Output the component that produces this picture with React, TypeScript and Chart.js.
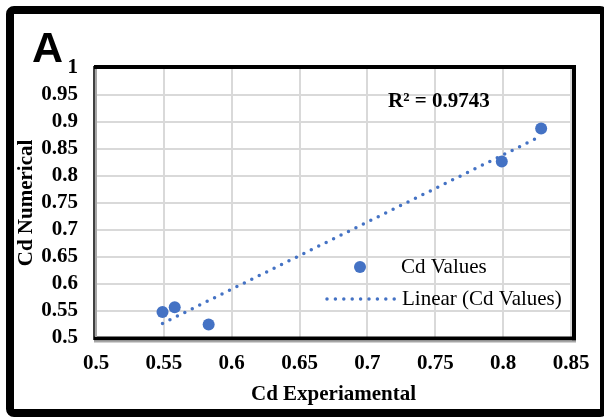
import React, { useEffect, useRef } from "react";
import { Chart, registerables } from "chart.js";

Chart.register(...registerables);

// ---- data ----
const cdExperimental = [0.549, 0.558, 0.583, 0.799, 0.828];
const cdNumerical = [0.548, 0.557, 0.525, 0.827, 0.888];
const trendX = [0.549, 0.828];
const trendY = [0.527, 0.874];
const xTicks = [0.5, 0.55, 0.6, 0.65, 0.7, 0.75, 0.8, 0.85];
const xTickLabels = ["0.5", "0.55", "0.6", "0.65", "0.7", "0.75", "0.8", "0.85"];
const yTicks = [0.5, 0.55, 0.6, 0.65, 0.7, 0.75, 0.8, 0.85, 0.9, 0.95, 1];
const yTickLabels = ["0.5", "0.55", "0.6", "0.65", "0.7", "0.75", "0.8", "0.85", "0.9", "0.95", "1"];
const seriesName = "Cd Values";
const trendName = "Linear (Cd Values)";
const r2Label = "R² = 0.9743";
const panelLabel = "A";
const xTitle = "Cd Experiamental";
const yTitle = "Cd Numerical";

const BLUE = "#4472C4";
const SERIF = "'Liberation Serif', 'Times New Roman', serif";

const decorPlugin = {
  id: "decor",
  afterDraw(chart: any) {
    const { ctx, chartArea } = chart;
    const { left, right, top, bottom } = chartArea;
    ctx.save();
    // plot frame
    ctx.lineCap = "butt";
    ctx.strokeStyle = "#000";
    ctx.lineWidth = 4;
    ctx.beginPath();
    ctx.moveTo(left - 2, top - 1);
    ctx.lineTo(right + 5, top - 1);
    ctx.stroke();
    ctx.beginPath();
    ctx.moveTo(right + 3, top - 3);
    ctx.lineTo(right + 3, bottom + 2.5);
    ctx.stroke();
    ctx.beginPath();
    ctx.moveTo(left - 2, bottom + 0.5);
    ctx.lineTo(right + 5, bottom + 0.5);
    ctx.stroke();
    ctx.lineWidth = 1.5;
    ctx.beginPath();
    ctx.moveTo(left - 2, top - 2);
    ctx.lineTo(left - 2, bottom + 2);
    ctx.stroke();
    ctx.strokeStyle = "#a6a6a6";
    ctx.lineWidth = 2;
    ctx.beginPath();
    ctx.moveTo(left, top + 1);
    ctx.lineTo(left, bottom - 1);
    ctx.stroke();
    ctx.beginPath();
    ctx.moveTo(left - 2, bottom + 3.5);
    ctx.lineTo(right + 5, bottom + 3.5);
    ctx.stroke();

    // panel label
    ctx.fillStyle = "#000";
    ctx.font = "bold 43px 'Liberation Sans', Arial, sans-serif";
    ctx.textAlign = "left";
    ctx.textBaseline = "alphabetic";
    ctx.fillText(panelLabel, 32, 62);

    // R² annotation
    ctx.font = `bold 21px ${SERIF}`;
    ctx.textBaseline = "middle";
    ctx.fillText(r2Label, right - 183, top + 34);

    // legend
    const lx = right - 246;
    const ly1 = bottom - 71;
    const ly2 = bottom - 39;
    ctx.fillStyle = BLUE;
    ctx.beginPath();
    ctx.arc(lx + 35, ly1, 6, 0, Math.PI * 2);
    ctx.fill();
    ctx.strokeStyle = BLUE;
    ctx.lineWidth = 3.5;
    ctx.lineCap = "round";
    ctx.setLineDash([0, 8.4]);
    ctx.beginPath();
    ctx.moveTo(lx + 2, ly2);
    ctx.lineTo(lx + 70, ly2);
    ctx.stroke();
    ctx.setLineDash([]);
    ctx.fillStyle = "#000";
    ctx.font = `21px ${SERIF}`;
    ctx.fillText(seriesName, lx + 76, ly1);
    ctx.fillText(trendName, lx + 77, ly2);
    ctx.restore();
  },
};

export default function App() {
  const ref = useRef<HTMLCanvasElement | null>(null);
  useEffect(() => {
    if (!ref.current) return;
    const chart = new Chart(ref.current, {
      type: "scatter",
      data: {
        datasets: [
          {
            label: seriesName,
            data: cdExperimental.map((x, i) => ({ x, y: cdNumerical[i] })),
            pointRadius: 6,
            pointHoverRadius: 6,
            backgroundColor: BLUE,
            borderWidth: 0,
          },
          {
            label: trendName,
            type: "line",
            data: trendX.map((x, i) => ({ x, y: trendY[i] })),
            borderColor: BLUE,
            borderWidth: 3.5,
            borderDash: [0, 8.3],
            borderCapStyle: "round",
            pointRadius: 0,
            fill: false,
          } as any,
        ],
      },
      options: {
        animation: false,
        responsive: false,
        maintainAspectRatio: false,
        devicePixelRatio: 1,
        layout: { padding: { left: 0, top: 68, right: 33, bottom: 0 } },
        plugins: { legend: { display: false }, tooltip: { enabled: false } },
        scales: {
          x: {
            type: "linear",
            min: 0.5,
            max: 0.85,
            afterBuildTicks: (s: any) => {
              s.ticks = xTicks.map((v) => ({ value: v }));
            },
            afterFit: (s: any) => {
              s.height = 79;
            },
            grid: { color: "#d9d9d9", lineWidth: 2, drawTicks: false },
            border: { display: false },
            ticks: {
              autoSkip: false,
              padding: 13,
              color: "#000",
              font: { family: SERIF, size: 21, weight: "bold" },
              maxRotation: 0,
              callback: (v: any) => xTickLabels[xTicks.indexOf(Number(v))] ?? "",
            },
            title: {
              display: true,
              text: xTitle,
              color: "#000",
              font: { family: SERIF, size: 21, weight: "bold" },
              padding: { top: 0, bottom: 9.5 },
            },
          },
          y: {
            type: "linear",
            min: 0.5,
            max: 1,
            afterBuildTicks: (s: any) => {
              s.ticks = yTicks.map((v) => ({ value: v }));
            },
            afterFit: (s: any) => {
              s.width = 96;
            },
            grid: { color: "#d9d9d9", lineWidth: 2, drawTicks: false },
            border: { display: false },
            ticks: {
              autoSkip: false,
              padding: 18,
              color: "#000",
              font: { family: SERIF, size: 21, weight: "bold" },
              callback: (v: any) => yTickLabels[yTicks.indexOf(Number(v))] ?? "",
            },
            title: {
              display: true,
              text: yTitle,
              color: "#000",
              font: { family: SERIF, size: 21, weight: "bold" },
              padding: { top: 13.5, bottom: 0 },
            },
          },
        },
      },
      plugins: [decorPlugin],
    });
    return () => chart.destroy();
  }, []);

  return (
    <div
      style={{
        position: "fixed",
        left: 0,
        top: 0,
        width: 604,
        height: 417,
        background: "#fff",
        overflow: "hidden",
      }}
    >
      <canvas ref={ref} width={604} height={417} style={{ position: "absolute", left: 0, top: 0 }} />
      <div
        style={{
          position: "absolute",
          left: 6,
          top: 6,
          width: 602,
          height: 411,
          boxSizing: "border-box",
          border: "8px solid #000",
          borderRadius: 8,
          pointerEvents: "none",
        }}
      />
    </div>
  );
}
